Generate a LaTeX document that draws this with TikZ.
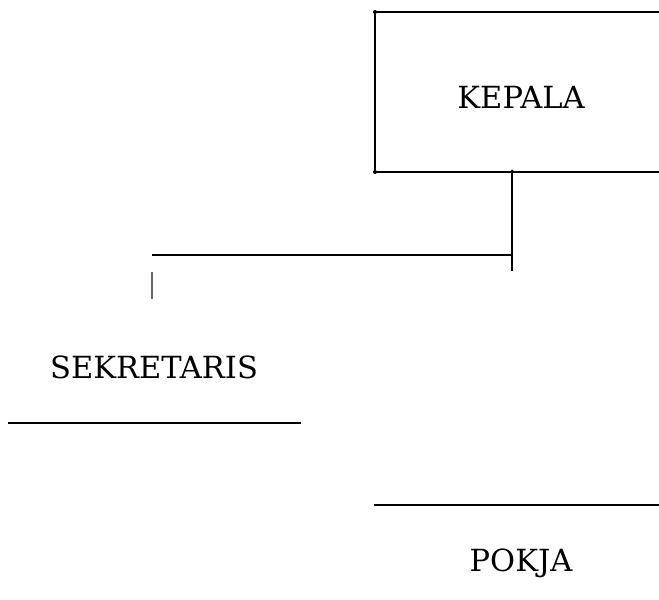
\documentclass[tikz,border=0pt]{standalone}
\usepackage{fontspec}
\setmainfont{DejaVu Serif}
\begin{document}
\begin{tikzpicture}[x=1pt,y=-1pt,
  ln/.style={line width=2.4pt,line cap=butt},
  lbl/.style={inner sep=0pt,font=\fontsize{30.5}{36}\selectfont},
  dotc/.style={circle,fill=black,inner sep=0pt,minimum size=4pt}]
\useasboundingbox (0,0) rectangle (659,600);
% KEPALA box (open on the right)
\coordinate (ktl) at (375,12);
\coordinate (kbl) at (375,172);
\coordinate (ktr) at (659,12);
\coordinate (kbr) at (659,172);
\draw[ln] (ktr) -- (ktl) -- (kbl) -- (kbr);
\node[dotc] at (ktl) {};
\node[dotc] at (kbl) {};
\node[lbl] (kepala) at (521,97) {KEPALA};
% connector
\coordinate (ktop) at (512,171);
\coordinate (kdown) at (512,271);
\coordinate (kjoin) at (512,255);
\coordinate (sleft) at (152,255);
\draw[ln] (ktop) -- (kdown);
\draw[ln] (kjoin) -- (sleft);
\node[dotc,minimum size=3pt] at (ktop) {};
% thin gray tick
\coordinate (tk1) at (152,272);
\coordinate (tk2) at (152,299);
\draw[line width=1.2pt,black!60] (tk1) -- (tk2);
% SEKRETARIS
\node[lbl] (sek) at (154,367) {SEKRETARIS};
\coordinate (sl1) at (8,423);
\coordinate (sl2) at (301,423);
\draw[ln] (sl1) -- (sl2);
% POKJA
\coordinate (pl1) at (374,505);
\coordinate (pl2) at (659,505);
\draw[ln] (pl1) -- (pl2);
\node[lbl] (pokja) at (521,563) {POKJA};
\end{tikzpicture}
\end{document}
